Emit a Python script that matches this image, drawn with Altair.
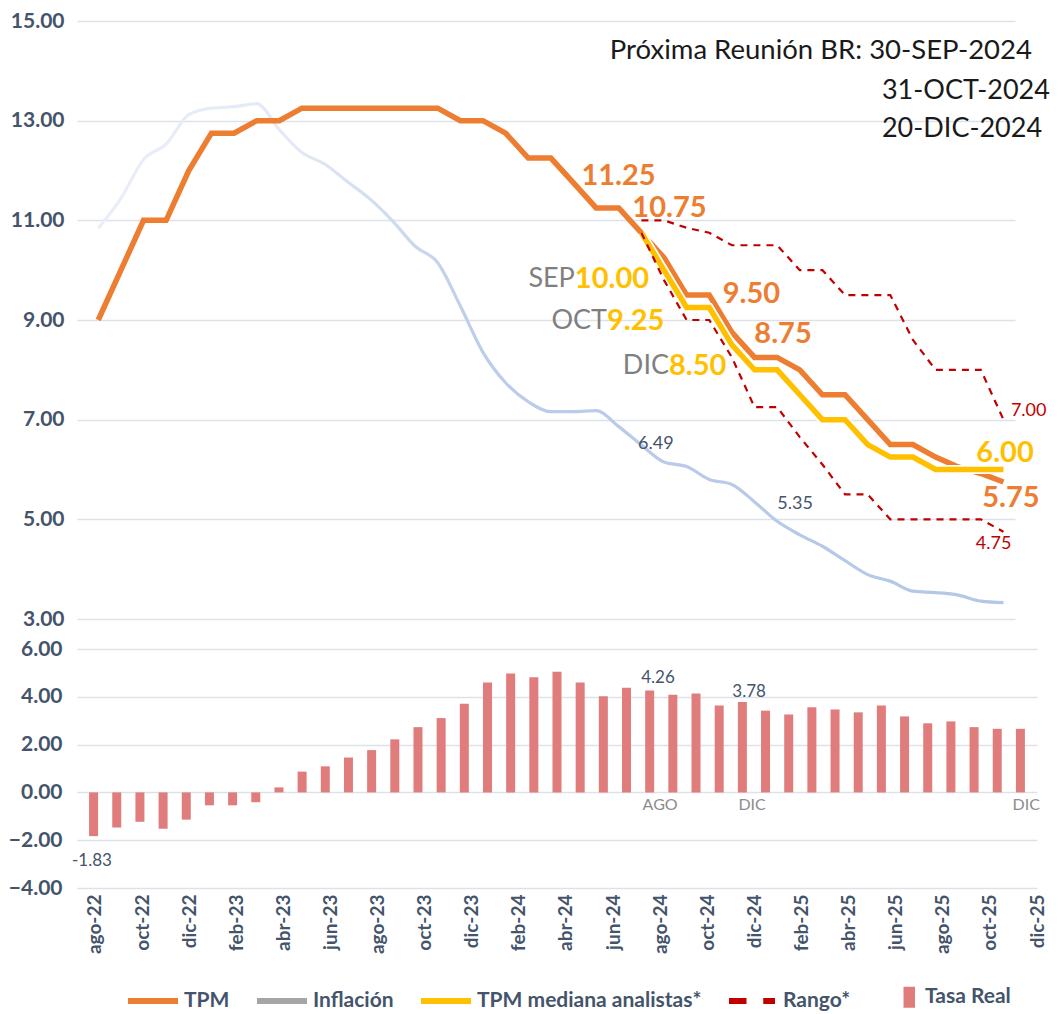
import altair as alt
import pandas as pd

# ---------------- data ----------------
meses = ["ago-22", "sep-22", "oct-22", "nov-22", "dic-22",
         "ene-23", "feb-23", "mar-23", "abr-23", "may-23", "jun-23", "jul-23",
         "ago-23", "sep-23", "oct-23", "nov-23", "dic-23",
         "ene-24", "feb-24", "mar-24", "abr-24", "may-24", "jun-24", "jul-24",
         "ago-24", "sep-24", "oct-24", "nov-24", "dic-24",
         "ene-25", "feb-25", "mar-25", "abr-25", "may-25", "jun-25", "jul-25",
         "ago-25", "sep-25", "oct-25", "nov-25", "dic-25"]

tpm = [9.00, 10.00, 11.00, 11.00, 12.00, 12.75, 12.75, 13.00, 13.00, 13.25,
       13.25, 13.25, 13.25, 13.25, 13.25, 13.25, 13.00, 13.00, 12.75, 12.25,
       12.25, 11.75, 11.25, 11.25, 10.75, 10.25, 9.50, 9.50, 8.75, 8.25,
       8.25, 8.00, 7.50, 7.50, 7.00, 6.50, 6.50, 6.25, 6.05, 5.92, 5.75]

inflacion = [10.84, 11.44, 12.22, 12.53, 13.12, 13.25, 13.28, 13.34, 12.82, 12.36,
             12.13, 11.78, 11.43, 10.99, 10.48, 10.15, 9.28, 8.35, 7.74, 7.36,
             7.16, 7.16, 7.18, 6.86, 6.49, 6.15, 6.06, 5.80, 5.70, 5.35,
             4.96, 4.69, 4.46, 4.17, 3.89, 3.76, 3.56, 3.53, 3.48, 3.36, 3.33]

inicio_proy = 24  # ago-24
mediana = [10.75, 10.00, 9.25, 9.25, 8.50, 8.00, 8.00, 7.50, 7.00, 7.00,
           6.50, 6.25, 6.25, 6.00, 6.00, 6.00, 6.00]
rango_sup = [11.00, 11.00, 10.85, 10.75, 10.50, 10.50, 10.50, 10.00, 10.00, 9.50,
             9.50, 9.50, 8.60, 8.00, 8.00, 8.00, 7.00]
rango_inf = [10.75, 9.80, 9.00, 9.00, 8.25, 7.25, 7.25, 6.65, 6.10, 5.50,
             5.50, 5.00, 5.00, 5.00, 5.00, 5.00, 4.75]

tasa_real = [-1.83, -1.47, -1.23, -1.52, -1.14, -0.54, -0.54, -0.41, 0.21, 0.87,
             1.09, 1.46, 1.77, 2.22, 2.73, 3.11, 3.71, 4.60, 4.98, 4.82,
             5.05, 4.60, 4.02, 4.38, 4.26, 4.09, 4.14, 3.64, 3.78, 3.42,
             3.26, 3.56, 3.47, 3.35, 3.64, 3.18, 2.89, 2.97, 2.73, 2.66, 2.66]

series = ["TPM", "Inflación", "TPM mediana analistas*", "Rango*", "Tasa Real"]
colores = ["#ed7d31", "#a5a5a5", "#ffc000", "#c00000", "#e07c7c"]
simbolos = ["stroke", "stroke", "stroke",
            "M-0.92,0H-0.22M0.45,0H0.92",
            "M0.5,-0.3H0.72V0.3H0.5Z"]

# annotations (data coordinates: month index, value)
tpm_etq = ["11.25", "10.75", "9.50", "8.75", "5.75"]
tpm_etq_x = [22.99, 25.24, 28.86, 30.26, 40.33]
tpm_etq_y = [11.89, 11.25, 9.52, 8.72, 5.43]

med_etq = ["10.00", "9.25", "8.50"]
med_mes = ["SEP", "OCT", "DIC"]
med_etq_x = [21.06, 22.48, 25.22]
med_etq_y = [9.82, 8.98, 8.08]
med_fin = ["6.00"]
med_fin_x = [40.07]
med_fin_y = [6.33]

rango_etq = ["7.00", "4.75"]
rango_etq_x = [40.33, 38.78]
rango_etq_y = [7.17, 4.50]

infl_etq = ["6.49", "5.35"]
infl_etq_x = [24.64, 30.79]
infl_etq_y = [6.51, 5.31]

reunion_1 = ["Próxima Reunión BR: 30-SEP-2024"]
reunion_1_x = [41.26]
reunion_1_y = [14.40]
reunion_2 = ["31-OCT-2024", "20-DIC-2024"]
reunion_2_x = [34.63, 34.63]
reunion_2_y = [13.60, 12.83]

real_etq = ["4.26", "3.78", "-1.83"]
real_etq_x = [24.36, 28.29, -0.07]
real_etq_y = [4.77, 4.18, -2.89]

hito_etq = ["AGO", "DIC", "DIC"]
hito_x = [24.45, 28.42, 40.25]
hito_y = [-0.54, -0.54, -0.54]

# ---------------- style ----------------
FONT = "Lato"
LEG_FONT = "Lato"
SLATE = "#44546a"
GRID = "#dde2ea"
TOP_W, TOP_H = 938, 598
BOT_W, BOT_H = 960, 239

n = len(meses)
idx = list(range(n))

top_df = pd.DataFrame({"x": idx, "mes": meses, "tpm": tpm, "infl": inflacion})
med_df = pd.DataFrame({"x": idx[inicio_proy:], "v": mediana})
rng_df = pd.DataFrame({
    "x": idx[inicio_proy:] * 2,
    "v": rango_sup + rango_inf,
    "banda": ["sup"] * len(rango_sup) + ["inf"] * len(rango_inf),
})
bot_df = pd.DataFrame({"x": idx, "mes": meses, "real": tasa_real})

top_x = alt.Scale(domain=[-0.94, 40.51], nice=False, zero=False)
top_y = alt.Scale(domain=[3, 15], nice=False, zero=False)
bot_x = alt.Scale(domain=[-0.5, 40.5], nice=False, zero=False)
bot_y = alt.Scale(domain=[-4, 6], nice=False, zero=False)

top_yaxis = alt.Axis(values=[3, 5, 7, 9, 11, 13, 15], format=".2f", labelFont=FONT,
                     labelFontSize=21, labelFontWeight="bold", labelColor=SLATE,
                     labelPadding=13, ticks=False, domain=False, grid=True,
                     gridColor=GRID, gridWidth=1.6, title=None)
bot_yaxis = alt.Axis(values=[-4, -2, 0, 2, 4, 6], format=".2f", labelFont=FONT,
                     labelFontSize=21, labelFontWeight="bold", labelColor=SLATE,
                     labelPadding=15, ticks=False, domain=False, grid=True,
                     gridColor=GRID, gridWidth=1.6, title=None)


def TX(field="x"):
    return alt.X(f"{field}:Q", scale=top_x, axis=None, title=None)


def TY(field):
    return alt.Y(f"{field}:Q", scale=top_y, axis=top_yaxis, title=None)


def texto(textos, xs, ys, scale_x, scale_y, yaxis, **kw):
    df = pd.DataFrame({"t": textos, "x": xs, "y": ys})
    return alt.Chart(df).mark_text(baseline="middle", **kw).encode(
        x=alt.X("x:Q", scale=scale_x, axis=None, title=None),
        y=alt.Y("y:Q", scale=scale_y, axis=yaxis, title=None),
        text="t:N",
    )


grad = alt.Gradient(
    gradient="linear",
    stops=[alt.GradientStop(color="#e9eef8", offset=0),
           alt.GradientStop(color="#e3e9f5", offset=0.22),
           alt.GradientStop(color="#bccdea", offset=0.42),
           alt.GradientStop(color="#b4c7e7", offset=1)],
    x1=0, x2=1, y1=0, y2=0,
)

infl_line = alt.Chart(top_df).mark_line(stroke=grad, strokeWidth=3.2,
                                        interpolate="monotone").encode(
    x=TX(), y=TY("infl"))
tpm_line = alt.Chart(top_df).mark_line(color="#ed7d31", strokeWidth=5.5,
                                       strokeJoin="miter").encode(x=TX(), y=TY("tpm"))
med_halo = alt.Chart(med_df).mark_line(color="white", strokeWidth=9).encode(
    x=TX(), y=TY("v"))
med_line = alt.Chart(med_df).mark_line(color="#ffc000", strokeWidth=5.5).encode(
    x=TX(), y=TY("v"))
rng_line = alt.Chart(rng_df).mark_line(color="#c00000", strokeWidth=2.2,
                                       strokeDash=[7, 6]).encode(
    x=TX(), y=TY("v"), detail="banda:N")

top_texts = [
    texto(tpm_etq, tpm_etq_x, tpm_etq_y, top_x, top_y, top_yaxis, font=FONT,
          fontSize=29, fontWeight="bold", color="#ed7d31", align="center"),
    texto(med_etq, med_etq_x, med_etq_y, top_x, top_y, top_yaxis, font=FONT,
          fontSize=29, fontWeight="bold", color="#ffc000", align="left"),
    texto(med_mes, med_etq_x, med_etq_y, top_x, top_y, top_yaxis, font=FONT,
          fontSize=27, color="#7f7f7f", align="right"),
    texto(med_fin, med_fin_x, med_fin_y, top_x, top_y, top_yaxis, font=FONT,
          fontSize=29, fontWeight="bold", color="#ffc000", align="center"),
    texto(rango_etq, rango_etq_x, rango_etq_y, top_x, top_y, top_yaxis, font=FONT,
          fontSize=18, color="#c00000", align="left"),
    texto(infl_etq, infl_etq_x, infl_etq_y, top_x, top_y, top_yaxis, font=FONT,
          fontSize=18, color=SLATE, align="center"),
    texto(reunion_1, reunion_1_x, reunion_1_y, top_x, top_y, top_yaxis, font=FONT,
          fontSize=27.5, color="#1a1a1a", align="right"),
    texto(reunion_2, reunion_2_x, reunion_2_y, top_x, top_y, top_yaxis, font=FONT,
          fontSize=27, color="#1a1a1a", align="left"),
]

top = alt.layer(infl_line, tpm_line, med_halo, med_line, rng_line,
                *top_texts).properties(width=TOP_W, height=TOP_H)

# ---------------- bottom panel ----------------
tick_axis = alt.Axis(orient="bottom", offset=-BOT_H * 0.4, labels=False, ticks=True,
                     tickSize=7, tickColor="#d5dae3", tickWidth=1.5, domain=True,
                     domainColor="#d5dae3", domainWidth=2, grid=False,
                     values=[-0.5 + 2 * k for k in range(21)], title=None)

bars = alt.Chart(bot_df).mark_bar(size=9, color="#e07c7c").encode(
    x=alt.X("x:Q", scale=bot_x, axis=tick_axis, title=None),
    y=alt.Y("real:Q", scale=bot_y, axis=bot_yaxis, title=None),
)

bot_texts = [
    texto(real_etq, real_etq_x, real_etq_y, bot_x, bot_y, bot_yaxis, font=FONT,
          fontSize=17, color=SLATE, align="center"),
    texto(hito_etq, hito_x, hito_y, bot_x, bot_y, bot_yaxis, font=FONT,
          fontSize=16, color="#8c8c8c", align="center"),
]

leg = alt.Legend(orient="none", legendX=48, legendY=948, direction="horizontal",
                 columns=5, title=None, labelFont=LEG_FONT, labelFontSize=21,
                 labelFontWeight="bold", labelColor=SLATE, symbolSize=2500,
                 symbolStrokeWidth=6, columnPadding=15, labelOffset=3, padding=0,
                 labelLimit=400)
leg_df = pd.DataFrame({"serie": series})
legend_layer = alt.Chart(leg_df).mark_point(filled=False, opacity=1, strokeWidth=6,
                                            size=2500).encode(
    color=alt.Color("serie:N", scale=alt.Scale(domain=series, range=colores),
                    legend=leg),
    shape=alt.Shape("serie:N", scale=alt.Scale(domain=series, range=simbolos),
                    legend=leg),
).transform_filter("false")

label_expr = "[" + ",".join("'%s'" % m for m in meses) + "][datum.value]"
label_axis = alt.Axis(orient="bottom", values=list(range(0, n, 2)), labelExpr=label_expr,
                      labelAngle=270, labelFont=FONT, labelFontSize=19,
                      labelFontWeight="bold", labelColor=SLATE, ticks=False,
                      domain=False, grid=False, labelPadding=6, labelOverlap=False,
                      labelFlush=False, title=None)
lbl_df = pd.DataFrame({"x": idx})
label_layer = alt.Chart(lbl_df).mark_point(opacity=0).encode(
    x=alt.X("x:Q", scale=alt.Scale(domain=[-0.764, 40], nice=False, zero=False),
            axis=label_axis, title=None)
)

bottom = alt.layer(
    alt.layer(bars, *bot_texts, legend_layer),
    label_layer,
).resolve_scale(x="independent").properties(width=BOT_W, height=BOT_H)

chart = alt.vconcat(top, bottom, spacing=30, bounds="flush").resolve_scale(
    x="independent"
).properties(
    padding={"left": 0, "top": 2, "right": 0, "bottom": 0},
    background="white",
).configure_view(stroke=None)

chart.save("out.html", embed_options={"renderer": "svg", "actions": False})
